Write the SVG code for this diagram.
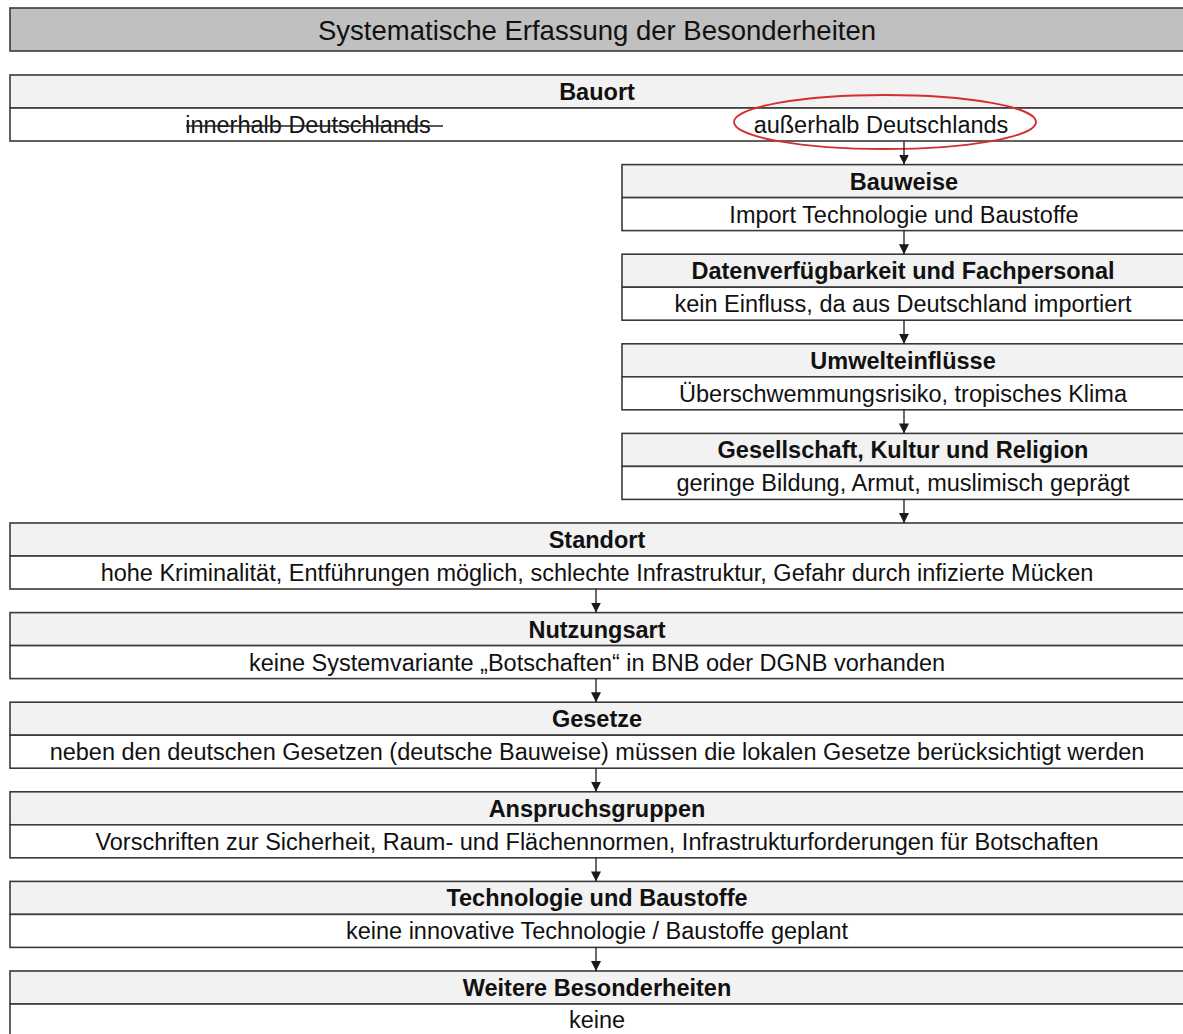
<svg xmlns="http://www.w3.org/2000/svg" width="1183" height="1034" viewBox="0 0 1183 1034">
  <defs>
    <marker id="arrowhead" viewBox="0 0 10 10" refX="10" refY="5" markerWidth="10" markerHeight="10" markerUnits="userSpaceOnUse" orient="auto">
      <path d="M0,0 L10,5 L0,10 Z" fill="#1a1a1a"/>
    </marker>
    <style>
      .hdr { fill: #f2f2f2; stroke: #3a3a3a; stroke-width: 1.6; }
      .body { fill: #ffffff; stroke: #3a3a3a; stroke-width: 1.6; }
      .title { fill: #c0c0c0; stroke: #3a3a3a; stroke-width: 1.6; }
      text { font-family: "Liberation Sans", Arial, sans-serif; fill: #111111; text-anchor: middle; }
      .h { font-size: 23.5px; font-weight: bold; }
      .b { font-size: 23.5px; }
      .t { font-size: 27.5px; }
      .conn { stroke: #1a1a1a; stroke-width: 1.3; fill: none; marker-end: url(#arrowhead); }
    </style>
  </defs>
  <rect width="1183" height="1034" fill="#ffffff"/>

  <g id="title">
    <rect class="title" x="10" y="8" width="1185" height="43"/>
    <text class="t" x="597" y="40">Systematische Erfassung der Besonderheiten</text>
  </g>

  <g id="bauort">
    <rect class="hdr" x="10" y="75" width="1185" height="33"/>
    <rect class="body" x="10" y="108" width="1185" height="33"/>
    <text class="h" x="597" y="100">Bauort</text>
    <text class="b" x="308" y="133">innerhalb Deutschlands</text>
    <line x1="186" y1="126" x2="443" y2="126" stroke="#222222" stroke-width="1.3"/>
    <text class="b" x="881" y="133">außerhalb Deutschlands</text>
    <ellipse cx="885" cy="122" rx="151" ry="27" fill="none" stroke="#d32f2f" stroke-width="1.8"/>
  </g>

  <g id="bauweise">
    <rect class="hdr" x="622" y="164.6" width="573" height="33"/>
    <rect class="body" x="622" y="197.6" width="573" height="33"/>
    <text class="h" x="904" y="189.6">Bauweise</text>
    <text class="b" x="904" y="222.6">Import Technologie und Baustoffe</text>
  </g>

  <g id="datenverfuegbarkeit">
    <rect class="hdr" x="622" y="254.2" width="573" height="33"/>
    <rect class="body" x="622" y="287.2" width="573" height="33"/>
    <text class="h" x="903" y="279.2">Datenverfügbarkeit und Fachpersonal</text>
    <text class="b" x="903" y="312.2">kein Einfluss, da aus Deutschland importiert</text>
  </g>

  <g id="umwelteinfluesse">
    <rect class="hdr" x="622" y="343.8" width="573" height="33"/>
    <rect class="body" x="622" y="376.8" width="573" height="33"/>
    <text class="h" x="903" y="368.8">Umwelteinflüsse</text>
    <text class="b" x="903" y="401.8">Überschwemmungsrisiko, tropisches Klima</text>
  </g>

  <g id="gesellschaft">
    <rect class="hdr" x="622" y="433.4" width="573" height="33"/>
    <rect class="body" x="622" y="466.4" width="573" height="33"/>
    <text class="h" x="903" y="458.4">Gesellschaft, Kultur und Religion</text>
    <text class="b" x="903" y="491.4">geringe Bildung, Armut, muslimisch geprägt</text>
  </g>

  <g id="standort">
    <rect class="hdr" x="10" y="523" width="1185" height="33"/>
    <rect class="body" x="10" y="556" width="1185" height="33"/>
    <text class="h" x="597" y="548">Standort</text>
    <text class="b" x="597" y="581">hohe Kriminalität, Entführungen möglich, schlechte Infrastruktur, Gefahr durch infizierte Mücken</text>
  </g>

  <g id="nutzungsart">
    <rect class="hdr" x="10" y="612.6" width="1185" height="33"/>
    <rect class="body" x="10" y="645.6" width="1185" height="33"/>
    <text class="h" x="597" y="637.6">Nutzungsart</text>
    <text class="b" x="597" y="670.6">keine Systemvariante „Botschaften“ in BNB oder DGNB vorhanden</text>
  </g>

  <g id="gesetze">
    <rect class="hdr" x="10" y="702.2" width="1185" height="33"/>
    <rect class="body" x="10" y="735.2" width="1185" height="33"/>
    <text class="h" x="597" y="727.2">Gesetze</text>
    <text class="b" x="597" y="760.2">neben den deutschen Gesetzen (deutsche Bauweise) müssen die lokalen Gesetze berücksichtigt werden</text>
  </g>

  <g id="anspruchsgruppen">
    <rect class="hdr" x="10" y="791.8" width="1185" height="33"/>
    <rect class="body" x="10" y="824.8" width="1185" height="33"/>
    <text class="h" x="597" y="816.8">Anspruchsgruppen</text>
    <text class="b" x="597" y="849.8">Vorschriften zur Sicherheit, Raum- und Flächennormen, Infrastrukturforderungen für Botschaften</text>
  </g>

  <g id="technologie">
    <rect class="hdr" x="10" y="881.4" width="1185" height="33"/>
    <rect class="body" x="10" y="914.4" width="1185" height="33"/>
    <text class="h" x="597" y="906.4">Technologie und Baustoffe</text>
    <text class="b" x="597" y="939.4">keine innovative Technologie / Baustoffe geplant</text>
  </g>

  <g id="weitere">
    <rect class="hdr" x="10" y="971" width="1185" height="33"/>
    <rect class="body" x="10" y="1004" width="1185" height="33"/>
    <text class="h" x="597" y="996">Weitere Besonderheiten</text>
    <text class="b" x="597" y="1028">keine</text>
  </g>

  <g id="connectors">
    <line class="conn" x1="904" y1="141" x2="904" y2="164.6"/>
    <line class="conn" x1="904" y1="230.6" x2="904" y2="254.2"/>
    <line class="conn" x1="904" y1="320.2" x2="904" y2="343.8"/>
    <line class="conn" x1="904" y1="409.8" x2="904" y2="433.4"/>
    <line class="conn" x1="904" y1="499.4" x2="904" y2="523"/>
    <line class="conn" x1="596" y1="589" x2="596" y2="612.6"/>
    <line class="conn" x1="596" y1="678.6" x2="596" y2="702.2"/>
    <line class="conn" x1="596" y1="768.2" x2="596" y2="791.8"/>
    <line class="conn" x1="596" y1="857.8" x2="596" y2="881.4"/>
    <line class="conn" x1="596" y1="947.4" x2="596" y2="971"/>
  </g>
</svg>
